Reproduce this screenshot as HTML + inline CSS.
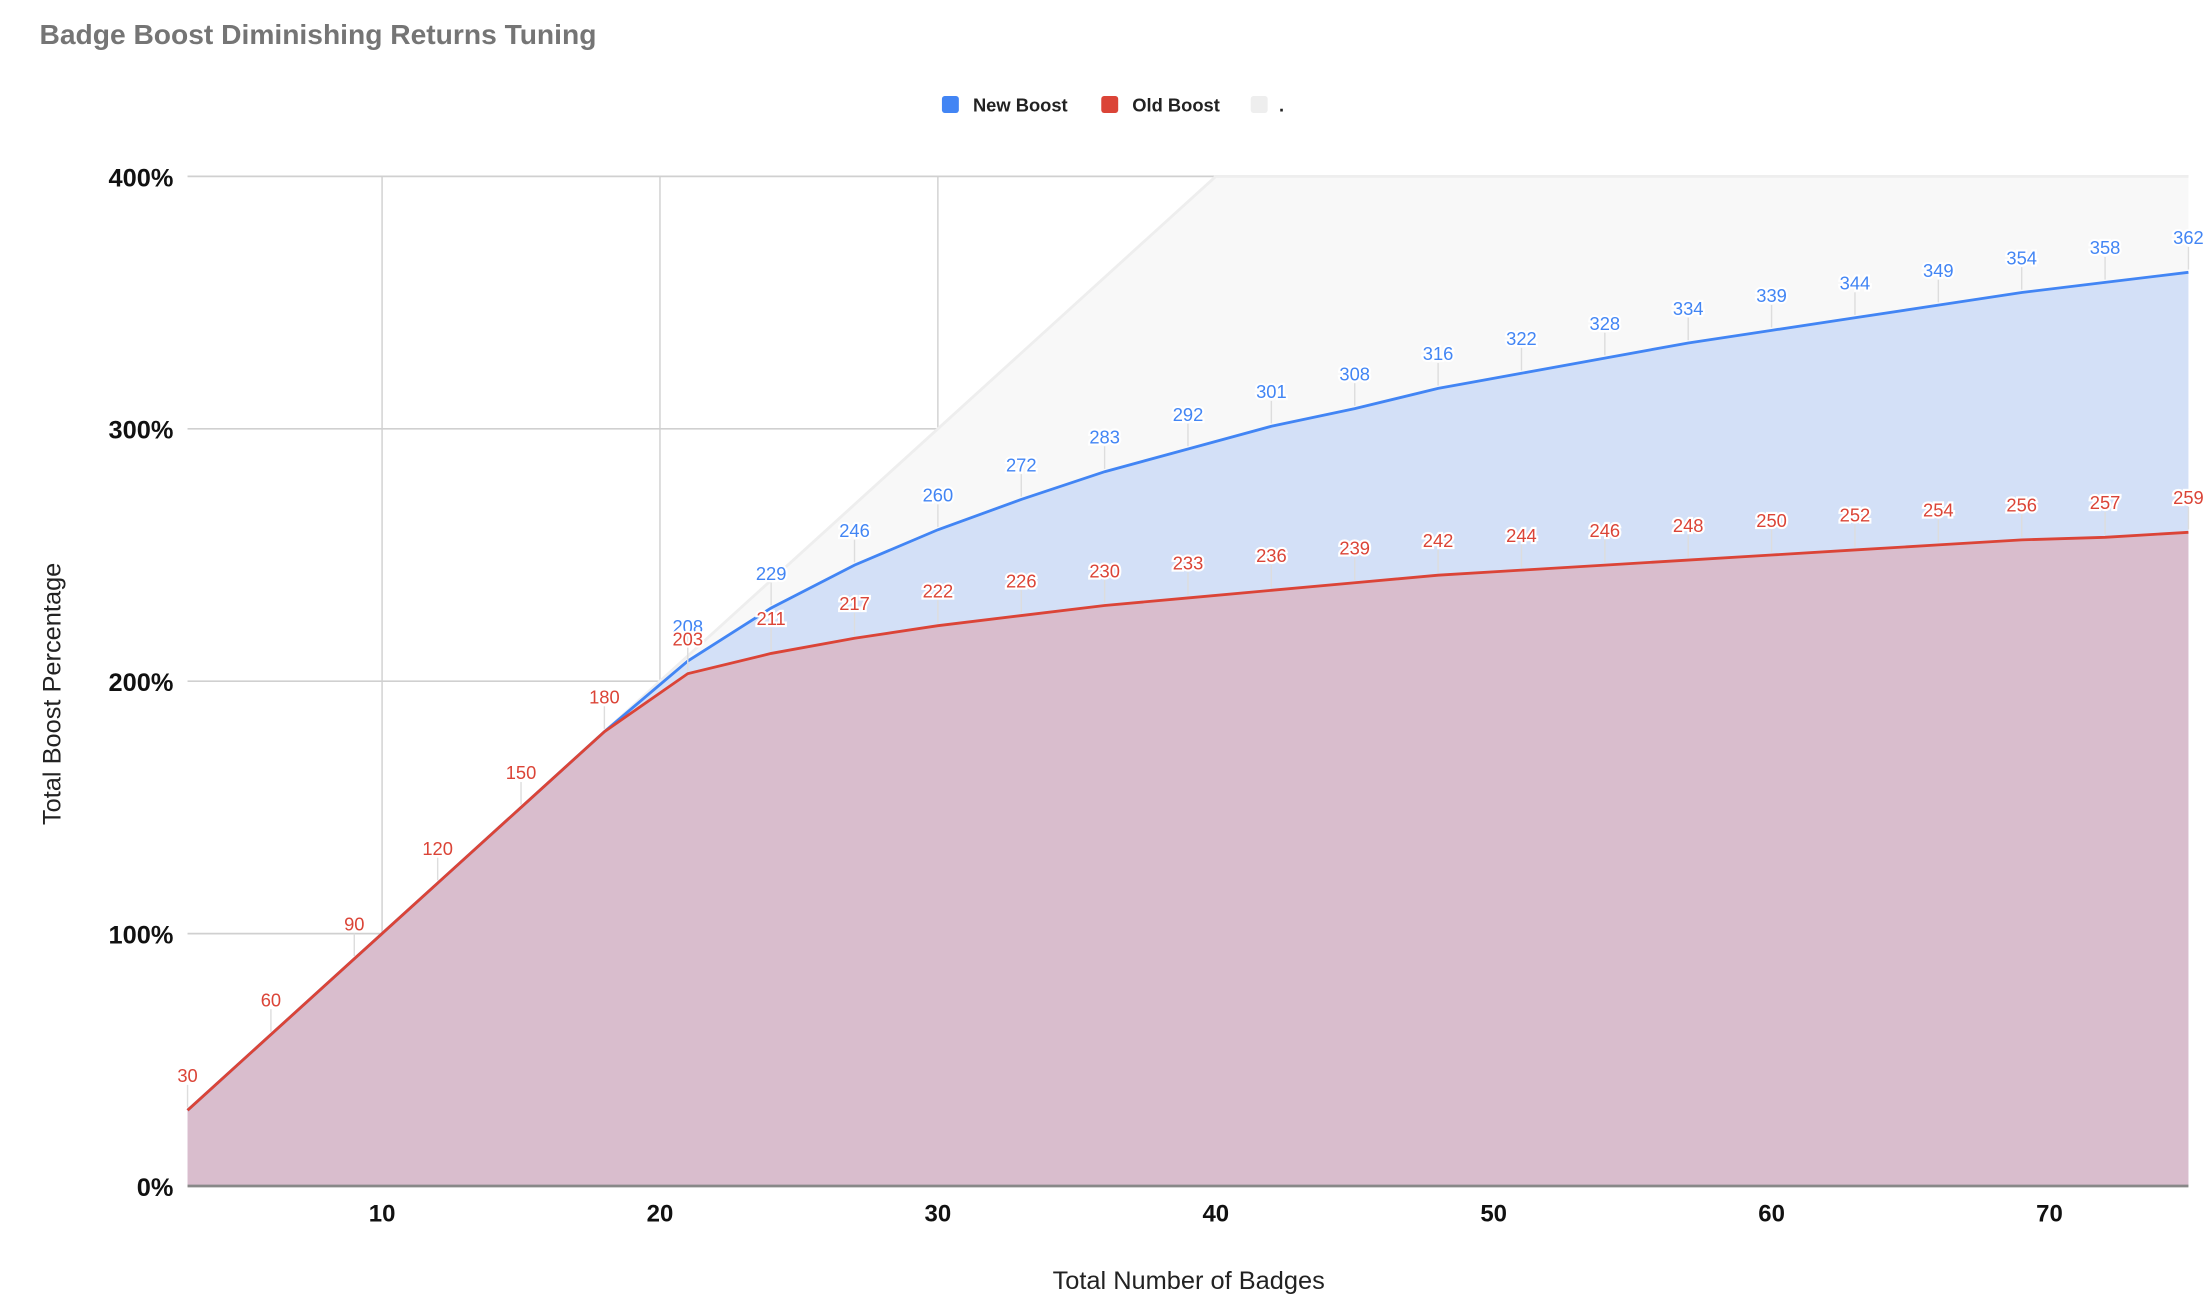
<!DOCTYPE html>
<html><head><meta charset="utf-8"><style>
html,body{margin:0;padding:0;background:#fff}
svg{display:block}
text{font-family:"Liberation Sans",Arial,sans-serif}
</style></head><body>
<svg id="chart" width="2211" height="1306" viewBox="0 0 1568 926" xmlns="http://www.w3.org/2000/svg">
<text x="28" y="31" font-size="20" font-weight="bold" fill="#757575">Badge Boost Diminishing Returns Tuning</text>
<g>
<rect x="668" y="68" width="12" height="12" rx="2" fill="#4285f4"/>
<text x="690" y="79" font-size="13" font-weight="bold" fill="#222">New Boost</text>
<rect x="781" y="68" width="12" height="12" rx="2" fill="#db4437"/>
<text x="803" y="79" font-size="13" font-weight="bold" fill="#222">Old Boost</text>
<rect x="887" y="68" width="12" height="12" rx="2" fill="#eeeeee"/>
<text x="907" y="79" font-size="13" font-weight="bold" fill="#222">.</text>
</g>
<g id="grid"></g>
<g id="areas"></g>
<g id="lines"></g>
<g id="labels"></g>
<g id="axes"></g>
<text x="843" y="914" font-size="18" text-anchor="middle" fill="#222">Total Number of Badges</text>
<text transform="translate(43,492) rotate(-90)" font-size="18" text-anchor="middle" fill="#222">Total Boost Percentage</text>
</svg>
<script>
const badges=[3,6,9,12,15,18,21,24,27,30,33,36,39,42,45,48,51,54,57,60,63,66,69,72,75];
const oldBoost=[30,60,90,120,150,180,203,211,217,222,226,230,233,236,239,242,244,246,248,250,252,254,256,257,259];
const newBoost=[30,60,90,120,150,180,208,229,246,260,272,283,292,301,308,316,322,328,334,339,344,349,354,358,362];
const refX=[3,40,75];
const refY=[30,400,400];
const xTicks=[10,20,30,40,50,60,70];
const yTicks=[0,100,200,300,400];
const NS="http://www.w3.org/2000/svg";
const L=133,R=1552,T=125,B=841,xMin=3,xMax=75,yMax=400;
const sx=v=>L+(v-xMin)/(xMax-xMin)*(R-L);
const sy=v=>B-v/yMax*(B-T);
function mk(tag,attrs,parent){const e=document.createElementNS(NS,tag);for(const k in attrs)e.setAttribute(k,attrs[k]);document.getElementById(parent).appendChild(e);return e;}
yTicks.forEach(t=>{
 const l=mk('line',{x1:L,x2:R,y1:sy(t),y2:sy(t),stroke:'#d0d0d0','stroke-width':1.2},'grid');
 
 
 const tx=mk('text',{x:123,y:sy(t)+7,'font-size':18,'font-weight':'bold','text-anchor':'end',fill:'#111'},'axes');
 tx.textContent=t+'%';
 
 
});
xTicks.forEach(t=>{
 const l=mk('line',{x1:sx(t),x2:sx(t),y1:T,y2:B,stroke:'#d0d0d0','stroke-width':1},'grid');
 
 
 const tx=mk('text',{x:sx(t),y:866,'font-size':17,'font-weight':'bold','text-anchor':'middle',fill:'#111'},'axes');
 tx.textContent=t;
 
 
});
function areaPath(xs,ys){let d='M'+sx(xs[0])+','+B;xs.forEach((x,i)=>d+=' L'+sx(x)+','+sy(ys[i]));return d+' L'+sx(xs[xs.length-1])+','+B+' Z';}
function linePath(xs,ys){return xs.map((x,i)=>(i?'L':'M')+sx(x)+','+sy(ys[i])).join(' ');}
const ra=mk('path',{d:areaPath(refX,refY),fill:'#f8f8f8'},'areas');


const na=mk('path',{d:areaPath(badges,newBoost),fill:'#d3e0f7'},'areas');


const oa=mk('path',{d:areaPath(badges,oldBoost),fill:'#d9bdcd'},'areas');


const rl=mk('path',{d:linePath(refX,refY),fill:'none',stroke:'#eeeeee','stroke-width':2},'lines');


const nl=mk('path',{d:linePath(badges,newBoost),fill:'none',stroke:'#4285f4','stroke-width':2},'lines');


const ol=mk('path',{d:linePath(badges,oldBoost),fill:'none',stroke:'#db4437','stroke-width':2},'lines');


const ax=mk('line',{x1:L,x2:R,y1:B,y2:B,stroke:'#888','stroke-width':2},'axes');


function labels(ys,color,name,skipDup){
 badges.forEach((x,i)=>{
  if(skipDup&&ys[i]===oldBoost[i])return;
  const px=sx(x),py=sy(ys[i]);
  const ld=mk('line',{x1:px,x2:px,y1:py-2,y2:py-18,stroke:'#ddd','stroke-width':1},'labels');
  
  
  const t=mk('text',{x:px,y:py-20,'font-size':13,'text-anchor':'middle',fill:color,stroke:'#fff','stroke-width':3,'paint-order':'stroke'},'labels');
  t.textContent=ys[i];
  
  
 });
}
labels(newBoost,'#4285f4','new-boost',true);
labels(oldBoost,'#db4437','old-boost',false);
</script>
</body></html>
